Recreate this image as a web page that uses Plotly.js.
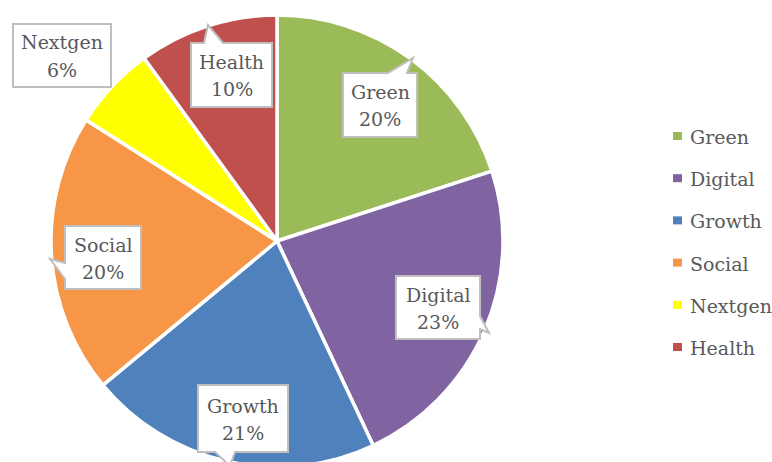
<!DOCTYPE html>
<html><head><meta charset="utf-8">
<script src="https://cdn.plot.ly/plotly-3.0.1.min.js"></script>
<style>html,body{margin:0;padding:0;overflow:hidden;background:#fff}#chart{width:772px;height:480px}</style>
</head><body><div id="chart"></div>
<script>
const categories = ["Green", "Digital", "Growth", "Social", "Nextgen", "Health"];
const shares = [20, 23, 21, 20, 6, 10];
const colors = ["#9BBB59", "#8064A2", "#4F81BD", "#F79646", "#FFFF00", "#C0504D"];

const W = 772, H = 480;
const px = x => x / W, py = y => 1 - y / H;

// callout boxes (pixel layout) with tail points, in category order
const callouts = [
  {box:[343,73,417,137], side:'top',    tail:[388,413,58,407]},
  {box:[396,276,480,339], side:'right', tail:[316,489,333,329]},
  {box:[198,385,288,452], side:'bottom',tail:[235,230,466,215]},
  {box:[65,226,141,289], side:'left',   tail:[279,50,259,263]},
  {box:[13,24,111,87], side:null},
  {box:[191,43,272,107], side:'top',    tail:[204,208,25,223]}
];

function pathFor(c){
  const [x0,y0,x1,y1] = c.box;
  let pts;
  if (c.side==='top'){ const [a,tx,ty,b]=c.tail; pts=[[x0,y0],[a,y0],[tx,ty],[b,y0],[x1,y0],[x1,y1],[x0,y1]]; }
  else if (c.side==='right'){ const [a,tx,ty,b]=c.tail; pts=[[x0,y0],[x1,y0],[x1,a],[tx,ty],[x1,b],[x1,y1],[x0,y1]]; }
  else if (c.side==='bottom'){ const [a,tx,ty,b]=c.tail; pts=[[x0,y0],[x1,y0],[x1,y1],[a,y1],[tx,ty],[b,y1],[x0,y1]]; }
  else if (c.side==='left'){ const [a,tx,ty,b]=c.tail; pts=[[x0,y0],[x1,y0],[x1,y1],[x0,y1],[x0,a],[tx,ty],[x0,b]]; }
  else pts=[[x0,y0],[x1,y0],[x1,y1],[x0,y1]];
  return 'M' + pts.map(p=>px(p[0]).toFixed(5)+','+py(p[1]).toFixed(5)).join(' L') + ' Z';
}

const textFont = {family:'DejaVu Serif', size:19, color:'#595959'};
const shapes = [], annotations = [];

categories.forEach((cat,i)=>{
  const c = callouts[i];
  shapes.push({type:'path', xref:'paper', yref:'paper', path:pathFor(c),
    fillcolor:'#FFFFFF', line:{color:'#BFBFBF', width:2}, layer:'above'});
  const cx = (c.box[0]+c.box[2])/2, cy = (c.box[1]+c.box[3])/2;
  annotations.push({xref:'paper', yref:'paper', x:px(cx), y:py(cy-13), text:cat,
    showarrow:false, font:textFont, xanchor:'center', yanchor:'middle'});
  annotations.push({xref:'paper', yref:'paper', x:px(cx), y:py(cy+14), text:shares[i]+'%',
    showarrow:false, font:textFont, xanchor:'center', yanchor:'middle'});
  // legend
  const ly = 136 + i*42.2;
  shapes.push({type:'rect', xref:'paper', yref:'paper', x0:px(673), x1:px(682), y0:py(ly-4), y1:py(ly+4),
    fillcolor:colors[i], line:{width:0}});
  annotations.push({xref:'paper', yref:'paper', x:px(688), y:py(ly+1), text:cat, showarrow:false,
    font:textFont, xanchor:'left', yanchor:'middle'});
});

const data = [{
  type:'pie', labels:categories, values:shares, sort:false, direction:'clockwise', rotation:0,
  marker:{colors:colors, line:{color:'#FFFFFF', width:3.5}},
  textinfo:'none', hoverinfo:'label+percent',
  domain:{x:[px(51), px(503)], y:[py(467), py(15)]}
}];

const layout = {
  width:W, height:H, margin:{l:0,r:0,t:0,b:0},
  paper_bgcolor:'#FFFFFF', showlegend:false,
  shapes:shapes, annotations:annotations
};
Plotly.newPlot('chart', data, layout, {displayModeBar:false, staticPlot:true});
</script></body></html>
